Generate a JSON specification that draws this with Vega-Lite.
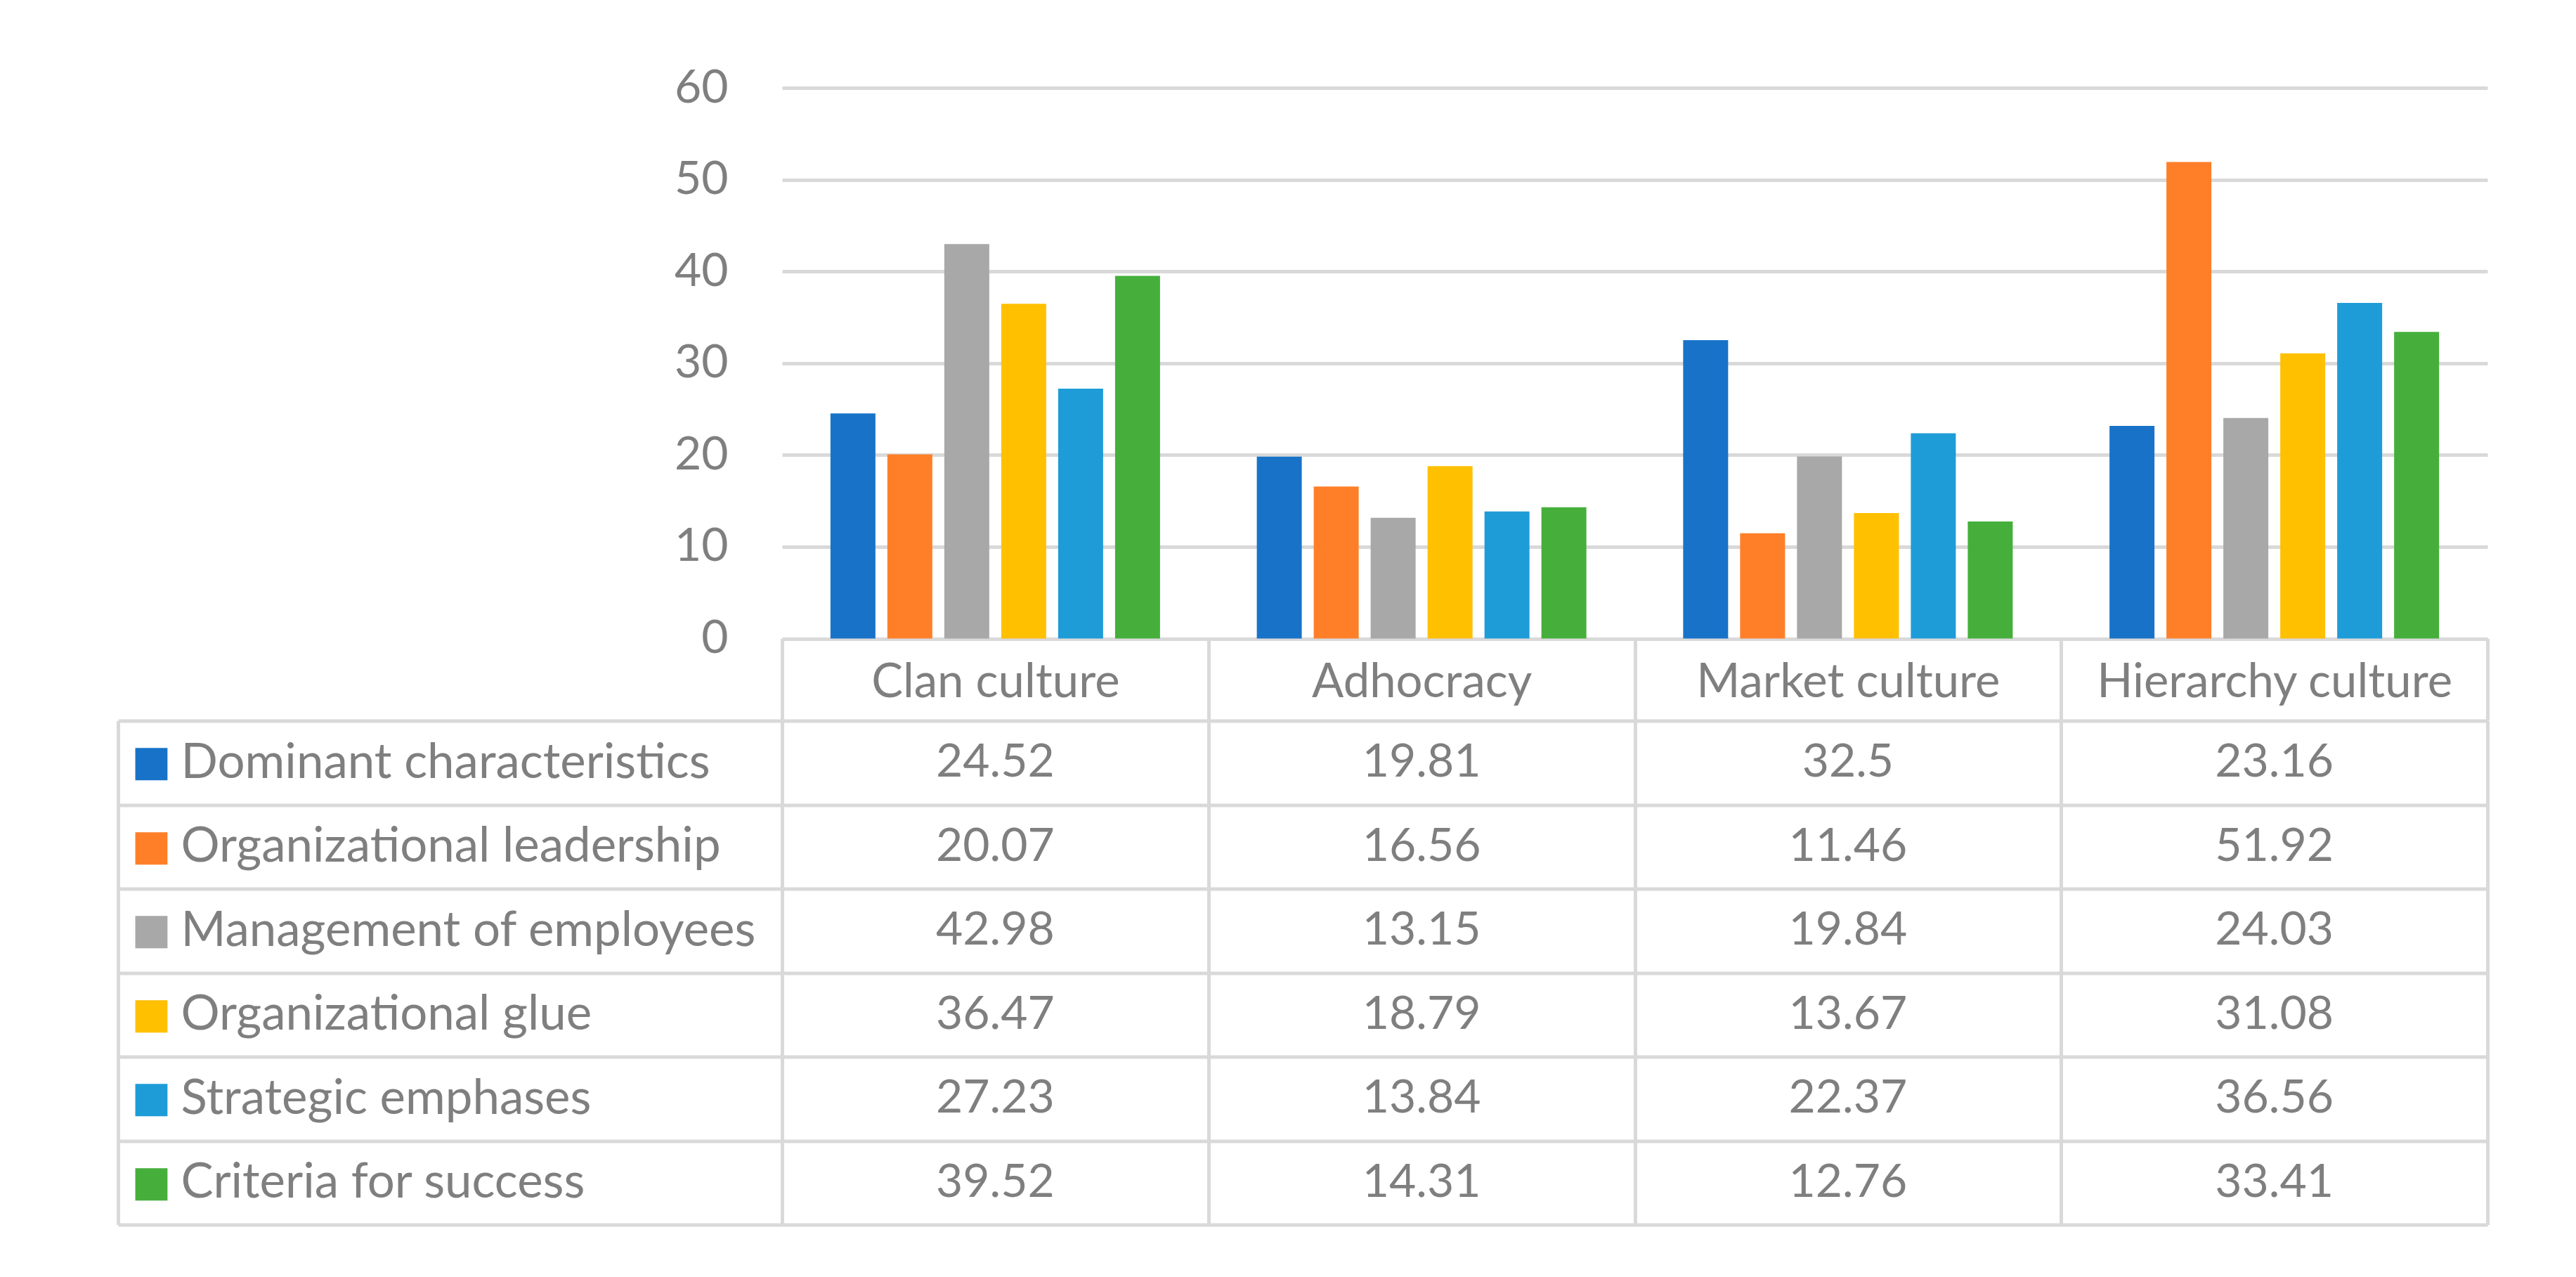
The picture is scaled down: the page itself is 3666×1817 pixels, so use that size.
{
  "$schema": "https://vega.github.io/schema/vega-lite/v6.json",
  "padding": {"left": 165, "top": 92, "right": 10, "bottom": 10},
  "background": "white",
  "config": {"font": "Lato", "view": {"stroke": null}},
  "data": {"values": [
    {"culture": "Clan culture", "aspect": "Dominant characteristics", "value": 24.52},
    {"culture": "Clan culture", "aspect": "Organizational leadership", "value": 20.07},
    {"culture": "Clan culture", "aspect": "Management of employees", "value": 42.98},
    {"culture": "Clan culture", "aspect": "Organizational glue", "value": 36.47},
    {"culture": "Clan culture", "aspect": "Strategic emphases", "value": 27.23},
    {"culture": "Clan culture", "aspect": "Criteria for success", "value": 39.52},
    {"culture": "Adhocracy", "aspect": "Dominant characteristics", "value": 19.81},
    {"culture": "Adhocracy", "aspect": "Organizational leadership", "value": 16.56},
    {"culture": "Adhocracy", "aspect": "Management of employees", "value": 13.15},
    {"culture": "Adhocracy", "aspect": "Organizational glue", "value": 18.79},
    {"culture": "Adhocracy", "aspect": "Strategic emphases", "value": 13.84},
    {"culture": "Adhocracy", "aspect": "Criteria for success", "value": 14.31},
    {"culture": "Market culture", "aspect": "Dominant characteristics", "value": 32.5},
    {"culture": "Market culture", "aspect": "Organizational leadership", "value": 11.46},
    {"culture": "Market culture", "aspect": "Management of employees", "value": 19.84},
    {"culture": "Market culture", "aspect": "Organizational glue", "value": 13.67},
    {"culture": "Market culture", "aspect": "Strategic emphases", "value": 22.37},
    {"culture": "Market culture", "aspect": "Criteria for success", "value": 12.76},
    {"culture": "Hierarchy culture", "aspect": "Dominant characteristics", "value": 23.16},
    {"culture": "Hierarchy culture", "aspect": "Organizational leadership", "value": 51.92},
    {"culture": "Hierarchy culture", "aspect": "Management of employees", "value": 24.03},
    {"culture": "Hierarchy culture", "aspect": "Organizational glue", "value": 31.08},
    {"culture": "Hierarchy culture", "aspect": "Strategic emphases", "value": 36.56},
    {"culture": "Hierarchy culture", "aspect": "Criteria for success", "value": 33.41}
  ]},
  "bounds": "flush",
  "spacing": 116.5,
  "vconcat": [
    {
      "width": 2427,
      "height": 783.5,
      "mark": {"type": "bar"},
      "encoding": {
        "x": {
          "field": "culture", "type": "nominal",
          "sort": ["Clan culture", "Adhocracy", "Market culture", "Hierarchy culture"],
          "scale": {"paddingInner": 0, "paddingOuter": 0},
          "axis": {"title": null, "orient": "bottom", "domain": false, "grid": false, "ticks": true, "tickBand": "extent", "tickSize": 116.5, "tickColor": "#d9d9d9", "tickWidth": 5, "labelPadding": -54, "labelFontSize": 67, "labelColor": "#7f7f7f", "labelBaseline": "middle", "labelAngle": 0, "labelOverlap": false, "labelLimit": 1000}
        },
        "xOffset": {
          "field": "aspect", "type": "nominal",
          "sort": ["Dominant characteristics", "Organizational leadership", "Management of employees", "Organizational glue", "Strategic emphases", "Criteria for success"],
          "scale": {"paddingInner": 0.21, "paddingOuter": 0.85}
        },
        "y": {
          "field": "value", "type": "quantitative",
          "scale": {"domain": [0, 60], "nice": false},
          "axis": {"title": null, "values": [0, 10, 20, 30, 40, 50, 60], "domain": false, "ticks": false, "tickSize": 0, "labelPadding": 77, "labelFontSize": 66, "labelColor": "#7f7f7f", "labelFlush": false, "gridColor": "#d9d9d9", "gridWidth": 5}
        },
        "color": {
          "field": "aspect", "type": "nominal",
          "scale": {
            "domain": ["Dominant characteristics", "Organizational leadership", "Management of employees", "Organizational glue", "Strategic emphases", "Criteria for success"],
            "range": ["#1873C8", "#FF7F28", "#A8A8A8", "#FFC000", "#1E9CD8", "#46AF3C"]
          },
          "legend": null
        }
      }
    },
    {
      "width": 2427,
      "height": 717,
      "resolve": {"scale": {"y": "independent"}, "axis": {"y": "independent"}},
      "layer": [
        {
          "mark": {"type": "rect", "fill": "white"},
          "encoding": {
            "x": {
              "field": "culture", "type": "nominal",
              "sort": ["Clan culture", "Adhocracy", "Market culture", "Hierarchy culture"],
              "scale": {"paddingInner": 0, "paddingOuter": 0},
              "axis": {"title": null, "domain": false, "ticks": false, "labels": false, "grid": true, "tickBand": "extent", "gridColor": "#d9d9d9", "gridWidth": 5, "zindex": 1}
            },
            "y": {
              "field": "aspect", "type": "nominal",
              "scale": {"domain": ["Dominant characteristics", "Organizational leadership", "Management of employees", "Organizational glue", "Strategic emphases", "Criteria for success"], "paddingInner": 0, "paddingOuter": 0},
              "axis": {"orient": "left", "offset": 945, "title": null, "domain": true, "domainColor": "#d9d9d9", "domainWidth": 5, "ticks": false, "tickSize": 0, "grid": false, "labelExpr": "'■'", "labelFont": "DejaVu Sans", "labelFontSize": 60, "labelAlign": "center", "labelBaseline": "middle", "labelPadding": -47, "labelOverlap": false,
                "labelColor": {"expr": "datum.value === 'Dominant characteristics' ? '#1873C8' : datum.value === 'Organizational leadership' ? '#FF7F28' : datum.value === 'Management of employees' ? '#A8A8A8' : datum.value === 'Organizational glue' ? '#FFC000' : datum.value === 'Strategic emphases' ? '#1E9CD8' : '#46AF3C'"},
                "zindex": 1}
            }
          }
        },
        {
          "mark": {"type": "text", "fontSize": 66, "color": "#7f7f7f", "baseline": "middle", "align": "center"},
          "encoding": {
            "x": {
              "field": "culture", "type": "nominal",
              "sort": ["Clan culture", "Adhocracy", "Market culture", "Hierarchy culture"],
              "scale": {"paddingInner": 0, "paddingOuter": 0},
              "axis": {"title": null, "domain": false, "ticks": false, "labels": false, "grid": true, "tickBand": "extent", "gridColor": "#d9d9d9", "gridWidth": 5, "zindex": 1}
            },
            "y": {
              "field": "aspect", "type": "nominal",
              "scale": {"domain": ["Dominant characteristics", "Organizational leadership", "Management of employees", "Organizational glue", "Strategic emphases", "Criteria for success"], "paddingInner": 0, "paddingOuter": 0},
              "axis": {"orient": "left", "title": null, "domain": false, "ticks": true, "tickBand": "extent", "tickSize": 945, "tickColor": "#d9d9d9", "tickWidth": 5, "grid": true, "gridColor": "#d9d9d9", "gridWidth": 5, "labelAlign": "left", "labelBaseline": "middle", "labelPadding": -89, "labelFontSize": 69, "labelColor": "#7f7f7f", "labelLimit": 1000, "labelOverlap": false, "zindex": 1}
            },
            "text": {"field": "value", "type": "quantitative"}
          }
        }
      ]
    }
  ]
}
